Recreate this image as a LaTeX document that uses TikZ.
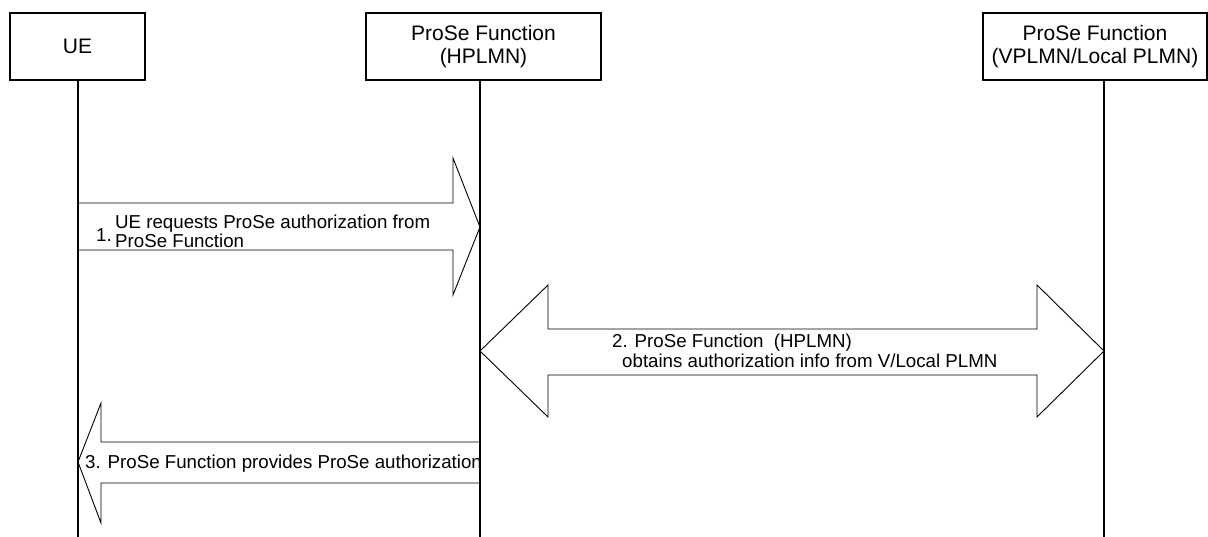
\documentclass[tikz,border=0pt]{standalone}
\usepackage{fontspec}
\setmainfont{Liberation Sans}
\begin{document}
\begin{tikzpicture}[x=1pt,y=-1pt,
  ent/.style={draw, line width=1.3pt, minimum height=67pt, inner sep=0pt, align=center, font=\fontsize{21}{23}\selectfont},
  life/.style={line width=1.3pt},
  blk/.style={draw, line width=0.9pt, line join=miter},
  lbl/.style={inner sep=0pt, anchor=base west, font=\fontsize{18.7}{20}\selectfont}]
\useasboundingbox (0,0) rectangle (1208,537);
% entities
\node[ent, minimum width=135pt] (ue) at (77.5,46.5) {UE};
\node[ent, minimum width=235pt] (hp) at (483.5,46.5) {ProSe Function\\(HPLMN)};
\node[ent, minimum width=224pt] (vp) at (1095,46.5) {ProSe Function\\(VPLMN/Local PLMN)};
% lifelines
\coordinate (ueb) at (78,537);
\coordinate (hpb) at (480,537);
\coordinate (vpb) at (1104,537);
\draw[life] (ue.south -| ueb) -- (ueb);
\draw[life] (hp.south -| hpb) -- (hpb);
\draw[life] (vp.south -| vpb) -- (vpb);
% block arrows
\draw[blk] (78,203) -- (453,203) -- (453,158) -- (480,227) -- (453,295) -- (453,250) -- (78,250) -- cycle;
\draw[blk] (480,351) -- (548,285) -- (548,329) -- (1037,329) -- (1037,285) -- (1104,351) -- (1037,417) -- (1037,375) -- (548,375) -- (548,417) -- cycle;
\draw[blk] (78,462) -- (101,403) -- (101,442) -- (480,442) -- (480,483) -- (101,483) -- (101,523) -- cycle;
% labels
\node[lbl] (l1n) at (96,242) {1.};
\node[lbl] (l1a) at (115,228.5) {UE requests ProSe authorization from};
\node[lbl] (l1b) at (115,247.5) {ProSe Function};
\node[lbl] (l2a) at (612,348) {2. ProSe Function\ \ (HPLMN)};
\node[lbl] (l2b) at (622,368) {obtains authorization info from V/Local PLMN};
\node[lbl] (l3) at (85,468) {3. ProSe Function provides ProSe authorization};
\end{tikzpicture}
\end{document}
